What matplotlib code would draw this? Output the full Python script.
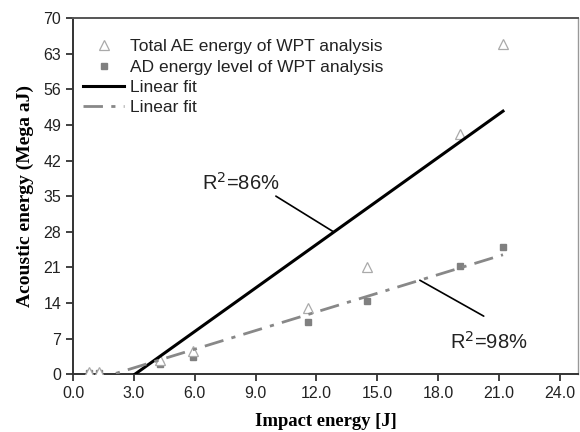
import numpy as np
import matplotlib
matplotlib.use("Agg")
import matplotlib.pyplot as plt

# Data
impact = [0.8, 1.3, 4.3, 5.9, 11.6, 14.5, 19.1, 21.2]
total_ae = [0.5, 0.5, 2.8, 4.5, 13.0, 21.0, 47.3, 65.0]
ad_level = [0.2, 0.3, 1.9, 3.4, 10.2, 14.4, 21.3, 25.0]
labels = ["Total AE energy of WPT analysis", "AD energy level of WPT analysis",
          "Linear fit", "Linear fit"]
xticks = [0, 3, 6, 9, 12, 15, 18, 21, 24]
yticks = [0, 7, 14, 21, 28, 35, 42, 49, 56, 63, 70]

plt.rcParams['font.family'] = ['Liberation Sans', 'DejaVu Sans']

fig = plt.figure(figsize=(5.8, 4.32), dpi=100)
ax = fig.add_axes([0.126, 0.134, 0.8706, 0.824])

x = np.array(impact)
p1 = np.polyfit(x, total_ae, 1)
p2 = np.polyfit(x, ad_level, 1)
xf = np.linspace(x.min(), x.max(), 200)

ax.plot(x, total_ae, linestyle='none', marker='^', markersize=6.5,
        markerfacecolor='white', markeredgecolor='#aaaaaa', markeredgewidth=0.9,
        label=labels[0], zorder=4)
ax.plot(x, ad_level, linestyle='none', marker='s', markersize=4.8,
        markerfacecolor='#808080', markeredgecolor='#808080',
        label=labels[1], zorder=3)
ax.plot(xf, np.polyval(p1, xf), color='black', lw=2.2, label=labels[2], zorder=5)
ax.plot(xf, np.polyval(p2, xf), color='#888888', lw=2.0, linestyle=(0, (7, 3, 1.5, 3)),
        label=labels[3], zorder=5)

# annotations
ax.text(8.28, 37.7, "R$^2$=86%", ha='center', va='center', fontsize=14.5,
        color='#222222')
ax.annotate("", xy=(12.86, np.polyval(p1, 12.86)), xytext=(10.0, 35.0),
            arrowprops=dict(arrowstyle='-', color='black', lw=1.2,
                            shrinkA=0, shrinkB=0))
ax.text(20.5, 6.3, "R$^2$=98%", ha='center', va='center', fontsize=14.5,
        color='#222222')
ax.annotate("", xy=(17.1, np.polyval(p2, 17.1)), xytext=(20.25, 11.4),
            arrowprops=dict(arrowstyle='-', color='black', lw=1.2,
                            shrinkA=0, shrinkB=0))

ax.set_xlim(0, 24.9)
ax.set_ylim(0, 70)
ax.set_xticks(xticks)
ax.set_xticklabels([f"{v:.1f}" for v in xticks])
ax.set_yticks(yticks)
ax.set_yticklabels([str(v) for v in yticks])
ax.tick_params(axis='both', direction='out', length=5, width=1.3, labelsize=11.5,
               color='#333333', labelcolor='#222222')

for s in ['left', 'bottom']:
    ax.spines[s].set_linewidth(1.4)
    ax.spines[s].set_color('#333333')
ax.spines['top'].set_linewidth(1.4)
ax.spines['top'].set_color('#555555')
ax.spines['right'].set_linewidth(1.0)
ax.spines['right'].set_color('#999999')

ax.set_xlabel("Impact energy [J]", fontfamily='Liberation Serif', fontweight='bold',
              fontsize=13.4, labelpad=9)
ax.set_ylabel("Acoustic energy (Mega aJ)", fontfamily='Liberation Serif',
              fontweight='bold', fontsize=14, labelpad=7)

leg = ax.legend(loc='upper left', frameon=False, fontsize=12.5, handlelength=2.4,
                handletextpad=0.3, labelspacing=0.3, borderaxespad=0.3,
                bbox_to_anchor=(-0.005, 0.975))
for t in leg.get_texts():
    t.set_color('#222222')

fig.savefig("out.png", dpi=100)
